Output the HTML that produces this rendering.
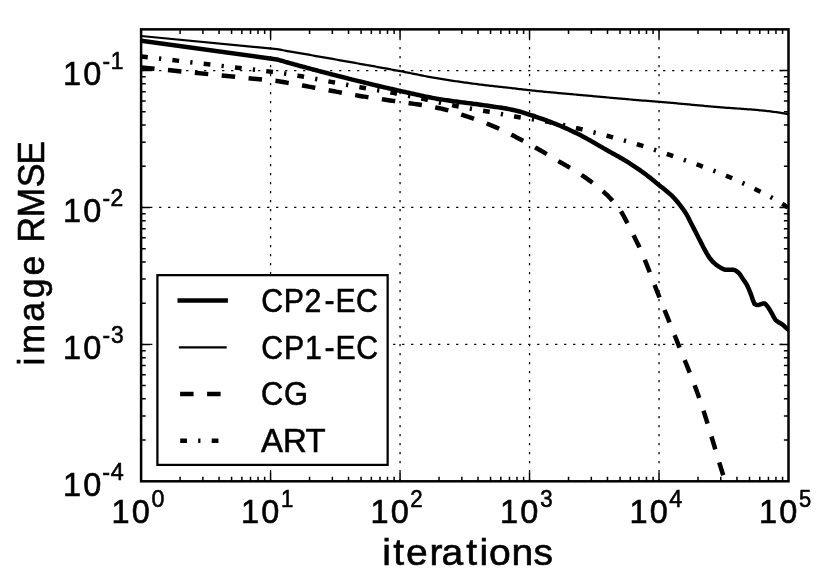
<!DOCTYPE html>
<html><head><meta charset="utf-8"><title>chart</title>
<style>
html,body{margin:0;padding:0;background:#fff;overflow:hidden}
body{width:830px;height:587px;position:relative;font-family:"Liberation Sans",sans-serif}
svg text{font-family:"Liberation Sans",sans-serif}
</style></head><body>
<svg width="830" height="587" viewBox="0 0 830 587" style="position:absolute;left:0;top:0;will-change:transform;filter:grayscale(1);font-family:'Liberation Sans',sans-serif" fill="#000">
<rect width="830" height="587" fill="#fff"/>
<defs><clipPath id="ax"><rect x="141.1" y="29.35" width="647.4" height="451.95"/></clipPath></defs>
<g stroke="#000" stroke-width="1.25" stroke-dasharray="2.25,6.75" fill="none">
<path d="M270.58,481.3 V29.35"/>
<path d="M400.06,481.3 V29.35"/>
<path d="M529.54,481.3 V29.35"/>
<path d="M659.02,481.3 V29.35"/>
<path d="M141.1,344.39 H788.5"/>
<path d="M141.1,207.48 H788.5"/>
<path d="M141.1,70.56 H788.5"/>
</g>
<g clip-path="url(#ax)" fill="none" stroke="#000" stroke-linejoin="round">
<path d="M141.10,40.70 L277.00,59.50 L278.51,59.93 L280.01,60.35 L281.52,60.78 L283.02,61.20 L284.53,61.63 L286.04,62.05 L287.54,62.47 L289.05,62.89 L290.55,63.31 L292.06,63.73 L293.56,64.14 L295.07,64.56 L296.58,64.97 L298.08,65.39 L299.59,65.80 L301.09,66.21 L302.60,66.62 L304.11,67.03 L305.61,67.44 L307.12,67.85 L308.62,68.26 L310.13,68.66 L311.64,69.07 L313.14,69.47 L314.65,69.87 L316.15,70.27 L317.66,70.67 L319.16,71.07 L320.67,71.47 L322.18,71.86 L323.68,72.26 L325.19,72.65 L326.69,73.04 L328.20,73.44 L329.71,73.83 L331.21,74.22 L332.72,74.60 L334.22,74.99 L335.73,75.38 L337.24,75.76 L338.74,76.14 L340.25,76.53 L341.75,76.91 L343.26,77.29 L344.76,77.67 L346.27,78.05 L347.78,78.43 L349.28,78.81 L350.79,79.18 L352.29,79.56 L353.80,79.93 L355.31,80.31 L356.81,80.68 L358.32,81.06 L359.82,81.43 L361.33,81.80 L362.84,82.17 L364.34,82.54 L365.85,82.90 L367.35,83.27 L368.86,83.63 L370.36,84.00 L371.87,84.36 L373.38,84.72 L374.88,85.08 L376.39,85.44 L377.89,85.80 L379.40,86.16 L380.91,86.51 L382.41,86.87 L383.92,87.22 L385.42,87.57 L386.93,87.92 L388.44,88.27 L389.94,88.62 L391.45,88.96 L392.95,89.31 L394.46,89.65 L395.96,89.99 L397.47,90.33 L398.98,90.67 L400.48,91.01 L401.99,91.35 L403.49,91.69 L405.00,92.03 L406.51,92.37 L408.01,92.71 L409.52,93.05 L411.02,93.39 L412.53,93.73 L414.04,94.07 L415.54,94.40 L417.05,94.73 L418.55,95.06 L420.06,95.39 L421.56,95.72 L423.07,96.04 L424.58,96.35 L426.08,96.66 L427.59,96.97 L429.09,97.27 L430.60,97.56 L432.11,97.85 L433.61,98.13 L435.12,98.40 L436.62,98.66 L438.13,98.92 L439.64,99.17 L441.14,99.41 L442.65,99.65 L444.15,99.88 L445.66,100.11 L447.16,100.33 L448.67,100.55 L450.18,100.76 L451.68,100.97 L453.19,101.18 L454.69,101.38 L456.20,101.58 L457.71,101.78 L459.21,101.97 L460.72,102.17 L462.22,102.36 L463.73,102.55 L465.24,102.74 L466.74,102.93 L468.25,103.13 L469.75,103.32 L471.26,103.51 L472.76,103.71 L474.27,103.90 L475.78,104.10 L477.28,104.31 L478.79,104.51 L480.29,104.72 L481.80,104.93 L483.31,105.14 L484.81,105.36 L486.32,105.59 L487.82,105.81 L489.33,106.04 L490.84,106.25 L492.34,106.47 L493.85,106.69 L495.35,106.91 L496.86,107.13 L498.36,107.36 L499.87,107.59 L501.38,107.82 L502.88,108.06 L504.39,108.31 L505.89,108.56 L507.40,108.83 L508.91,109.10 L510.41,109.39 L511.92,109.69 L513.42,110.01 L514.93,110.34 L516.44,110.71 L517.94,111.11 L519.45,111.52 L520.95,111.96 L522.46,112.41 L523.96,112.88 L525.47,113.35 L526.98,113.83 L528.48,114.31 L529.99,114.79 L531.49,115.27 L533.00,115.76 L534.51,116.26 L536.01,116.76 L537.52,117.27 L539.02,117.79 L540.53,118.31 L542.04,118.85 L543.54,119.38 L545.05,119.93 L546.55,120.48 L548.06,121.04 L549.56,121.61 L551.07,122.18 L552.58,122.77 L554.08,123.35 L555.59,123.95 L557.09,124.55 L558.60,125.16 L560.11,125.78 L561.61,126.42 L563.12,127.06 L564.62,127.72 L566.13,128.38 L567.64,129.06 L569.14,129.75 L570.65,130.45 L572.15,131.16 L573.66,131.88 L575.16,132.60 L576.67,133.34 L578.18,134.09 L579.68,134.84 L581.19,135.61 L582.69,136.39 L584.20,137.20 L585.71,138.02 L587.21,138.85 L588.72,139.69 L590.22,140.55 L591.73,141.41 L593.24,142.28 L594.74,143.16 L596.25,144.03 L597.75,144.91 L599.26,145.79 L600.76,146.66 L602.27,147.53 L603.78,148.39 L605.28,149.24 L606.79,150.08 L608.29,150.93 L609.80,151.77 L611.31,152.60 L612.81,153.44 L614.32,154.28 L615.82,155.13 L617.33,155.97 L618.84,156.83 L620.34,157.70 L621.85,158.57 L623.35,159.46 L624.86,160.36 L626.36,161.27 L627.87,162.21 L629.38,163.15 L630.88,164.12 L632.39,165.09 L633.89,166.08 L635.40,167.08 L636.91,168.10 L638.41,169.14 L639.92,170.18 L641.42,171.25 L642.93,172.33 L644.44,173.43 L645.94,174.55 L647.45,175.69 L648.95,176.87 L650.46,178.06 L651.96,179.27 L653.47,180.49 L654.98,181.72 L656.48,182.96 L657.99,184.20 L659.49,185.44 L661.00,186.66 L662.51,187.86 L664.01,189.05 L665.52,190.26 L667.02,191.49 L668.53,192.76 L670.04,194.08 L671.54,195.47 L673.05,196.95 L674.55,198.54 L676.06,200.25 L677.56,202.06 L679.07,203.96 L680.58,205.91 L682.08,207.91 L683.59,209.95 L685.09,212.12 L686.60,214.50 L688.11,217.27 L689.61,220.33 L691.12,223.27 L692.62,226.21 L694.13,229.15 L695.64,232.08 L697.14,235.01 L698.65,237.94 L700.15,240.88 L701.66,243.86 L703.16,246.81 L704.67,249.61 L706.18,252.35 L707.68,254.99 L709.19,257.33 L710.69,259.30 L712.20,261.05 L713.71,262.59 L715.21,263.94 L716.72,265.16 L718.22,266.24 L719.73,267.16 L721.24,268.03 L722.74,268.88 L724.25,269.53 L725.75,269.80 L727.26,269.80 L728.76,269.80 L730.27,269.80 L731.78,269.80 L733.28,269.80 L734.79,270.10 L736.29,270.96 L737.80,272.12 L739.31,273.52 L740.81,275.66 L742.32,278.07 L743.82,280.25 L745.33,282.37 L746.84,284.80 L748.34,287.93 L749.85,291.65 L751.35,295.43 L752.86,299.91 L754.36,303.75 L755.87,304.67 L757.38,304.96 L758.88,304.92 L760.39,304.45 L761.89,303.82 L763.40,303.36 L764.91,303.57 L766.41,305.07 L767.92,306.92 L769.42,309.24 L770.93,311.88 L772.44,314.49 L773.94,317.34 L775.45,319.78 L776.95,321.21 L778.46,322.19 L779.96,323.00 L781.47,323.90 L782.98,325.04 L784.48,326.35 L785.99,327.72 L787.49,329.06 L789.00,330.30" stroke-width="4.5"/>
<path d="M141.10,36.00 L277.00,49.20 L278.50,49.46 L280.01,49.72 L281.51,49.98 L283.02,50.24 L284.52,50.50 L286.03,50.77 L287.53,51.03 L289.04,51.29 L290.54,51.55 L292.04,51.81 L293.55,52.08 L295.05,52.34 L296.56,52.60 L298.06,52.87 L299.57,53.13 L301.07,53.39 L302.57,53.65 L304.08,53.92 L305.58,54.18 L307.09,54.45 L308.59,54.71 L310.10,54.98 L311.60,55.24 L313.11,55.50 L314.61,55.77 L316.11,56.03 L317.62,56.30 L319.12,56.57 L320.63,56.83 L322.13,57.10 L323.64,57.36 L325.14,57.63 L326.65,57.90 L328.15,58.16 L329.65,58.43 L331.16,58.70 L332.66,58.96 L334.17,59.23 L335.67,59.50 L337.18,59.76 L338.68,60.03 L340.19,60.30 L341.69,60.57 L343.19,60.84 L344.70,61.10 L346.20,61.37 L347.71,61.64 L349.21,61.90 L350.72,62.17 L352.22,62.44 L353.73,62.71 L355.23,62.97 L356.73,63.24 L358.24,63.51 L359.74,63.78 L361.25,64.05 L362.75,64.32 L364.26,64.58 L365.76,64.85 L367.26,65.12 L368.77,65.39 L370.27,65.66 L371.78,65.93 L373.28,66.20 L374.79,66.47 L376.29,66.75 L377.80,67.02 L379.30,67.29 L380.80,67.56 L382.31,67.84 L383.81,68.11 L385.32,68.38 L386.82,68.66 L388.33,68.94 L389.83,69.21 L391.34,69.49 L392.84,69.77 L394.34,70.05 L395.85,70.33 L397.35,70.61 L398.86,70.89 L400.36,71.17 L401.87,71.45 L403.37,71.74 L404.88,72.04 L406.38,72.33 L407.88,72.63 L409.39,72.94 L410.89,73.24 L412.40,73.55 L413.90,73.85 L415.41,74.16 L416.91,74.47 L418.41,74.77 L419.92,75.08 L421.42,75.38 L422.93,75.68 L424.43,75.98 L425.94,76.27 L427.44,76.57 L428.95,76.85 L430.45,77.14 L431.95,77.41 L433.46,77.69 L434.96,77.95 L436.47,78.21 L437.97,78.46 L439.48,78.71 L440.98,78.95 L442.49,79.19 L443.99,79.43 L445.49,79.67 L447.00,79.90 L448.50,80.13 L450.01,80.36 L451.51,80.59 L453.02,80.82 L454.52,81.04 L456.02,81.26 L457.53,81.48 L459.03,81.69 L460.54,81.91 L462.04,82.12 L463.55,82.33 L465.05,82.54 L466.56,82.74 L468.06,82.95 L469.56,83.15 L471.07,83.35 L472.57,83.55 L474.08,83.75 L475.58,83.94 L477.09,84.14 L478.59,84.33 L480.10,84.52 L481.60,84.71 L483.10,84.89 L484.61,85.08 L486.11,85.26 L487.62,85.45 L489.12,85.62 L490.63,85.80 L492.13,85.97 L493.64,86.13 L495.14,86.30 L496.64,86.46 L498.15,86.62 L499.65,86.78 L501.16,86.94 L502.66,87.10 L504.17,87.26 L505.67,87.42 L507.18,87.58 L508.68,87.75 L510.18,87.92 L511.69,88.10 L513.19,88.27 L514.70,88.46 L516.20,88.64 L517.71,88.82 L519.21,89.01 L520.71,89.19 L522.22,89.38 L523.72,89.56 L525.23,89.73 L526.73,89.91 L528.24,90.07 L529.74,90.24 L531.25,90.40 L532.75,90.55 L534.25,90.71 L535.76,90.86 L537.26,91.01 L538.77,91.17 L540.27,91.32 L541.78,91.46 L543.28,91.61 L544.79,91.76 L546.29,91.90 L547.79,92.04 L549.30,92.19 L550.80,92.33 L552.31,92.47 L553.81,92.61 L555.32,92.74 L556.82,92.88 L558.33,93.02 L559.83,93.16 L561.33,93.29 L562.84,93.43 L564.34,93.56 L565.85,93.70 L567.35,93.83 L568.86,93.97 L570.36,94.10 L571.86,94.23 L573.37,94.37 L574.87,94.50 L576.38,94.64 L577.88,94.77 L579.39,94.90 L580.89,95.04 L582.40,95.17 L583.90,95.31 L585.40,95.45 L586.91,95.58 L588.41,95.72 L589.92,95.86 L591.42,95.99 L592.93,96.13 L594.43,96.27 L595.94,96.41 L597.44,96.54 L598.94,96.68 L600.45,96.82 L601.95,96.96 L603.46,97.09 L604.96,97.23 L606.47,97.37 L607.97,97.50 L609.48,97.64 L610.98,97.78 L612.48,97.91 L613.99,98.05 L615.49,98.18 L617.00,98.32 L618.50,98.45 L620.01,98.58 L621.51,98.72 L623.01,98.85 L624.52,98.98 L626.02,99.11 L627.53,99.24 L629.03,99.37 L630.54,99.50 L632.04,99.63 L633.55,99.76 L635.05,99.89 L636.55,100.01 L638.06,100.14 L639.56,100.26 L641.07,100.39 L642.57,100.51 L644.08,100.63 L645.58,100.74 L647.09,100.86 L648.59,100.97 L650.09,101.09 L651.60,101.20 L653.10,101.32 L654.61,101.43 L656.11,101.55 L657.62,101.67 L659.12,101.79 L660.62,101.92 L662.13,102.04 L663.63,102.17 L665.14,102.30 L666.64,102.43 L668.15,102.56 L669.65,102.70 L671.16,102.83 L672.66,102.97 L674.16,103.10 L675.67,103.24 L677.17,103.38 L678.68,103.51 L680.18,103.65 L681.69,103.79 L683.19,103.93 L684.70,104.07 L686.20,104.21 L687.70,104.35 L689.21,104.49 L690.71,104.63 L692.22,104.77 L693.72,104.91 L695.23,105.05 L696.73,105.19 L698.24,105.33 L699.74,105.47 L701.24,105.60 L702.75,105.74 L704.25,105.88 L705.76,106.01 L707.26,106.15 L708.77,106.28 L710.27,106.41 L711.77,106.54 L713.28,106.68 L714.78,106.80 L716.29,106.93 L717.79,107.06 L719.30,107.18 L720.80,107.30 L722.31,107.42 L723.81,107.53 L725.31,107.65 L726.82,107.76 L728.32,107.87 L729.83,107.97 L731.33,108.08 L732.84,108.19 L734.34,108.29 L735.85,108.40 L737.35,108.50 L738.85,108.61 L740.36,108.71 L741.86,108.82 L743.37,108.93 L744.87,109.04 L746.38,109.15 L747.88,109.26 L749.39,109.38 L750.89,109.49 L752.39,109.61 L753.90,109.74 L755.40,109.86 L756.91,109.99 L758.41,110.13 L759.92,110.27 L761.42,110.41 L762.92,110.56 L764.43,110.71 L765.93,110.87 L767.44,111.03 L768.94,111.21 L770.45,111.40 L771.95,111.59 L773.46,111.79 L774.96,112.00 L776.46,112.22 L777.97,112.44 L779.47,112.67 L780.98,112.90 L782.48,113.13 L783.99,113.37 L785.49,113.61 L787.00,113.86 L788.50,114.10" stroke-width="2.25"/>
<path d="M141.10,67.40 L277.00,81.00 L278.51,81.26 L280.01,81.52 L281.52,81.78 L283.03,82.05 L284.53,82.31 L286.04,82.57 L287.55,82.84 L289.05,83.10 L290.56,83.37 L292.07,83.63 L293.57,83.90 L295.08,84.17 L296.59,84.44 L298.09,84.71 L299.60,84.97 L301.11,85.24 L302.61,85.51 L304.12,85.78 L305.63,86.06 L307.13,86.33 L308.64,86.60 L310.15,86.87 L311.65,87.15 L313.16,87.42 L314.67,87.70 L316.17,87.98 L317.68,88.26 L319.19,88.54 L320.69,88.82 L322.20,89.10 L323.71,89.38 L325.21,89.66 L326.72,89.94 L328.23,90.22 L329.73,90.50 L331.24,90.78 L332.75,91.05 L334.26,91.33 L335.76,91.60 L337.27,91.88 L338.78,92.15 L340.28,92.43 L341.79,92.70 L343.30,92.98 L344.80,93.25 L346.31,93.53 L347.82,93.80 L349.32,94.07 L350.83,94.35 L352.34,94.61 L353.84,94.88 L355.35,95.14 L356.86,95.40 L358.36,95.66 L359.87,95.92 L361.38,96.17 L362.88,96.41 L364.39,96.65 L365.90,96.89 L367.40,97.13 L368.91,97.36 L370.42,97.59 L371.92,97.82 L373.43,98.04 L374.94,98.27 L376.44,98.49 L377.95,98.71 L379.46,98.93 L380.96,99.15 L382.47,99.37 L383.98,99.59 L385.48,99.80 L386.99,100.02 L388.50,100.24 L390.00,100.46 L391.51,100.67 L393.02,100.88 L394.52,101.09 L396.03,101.30 L397.54,101.51 L399.04,101.71 L400.55,101.92 L402.06,102.12 L403.56,102.33 L405.07,102.54 L406.58,102.75 L408.08,102.96 L409.59,103.18 L411.10,103.40 L412.60,103.63 L414.11,103.86 L415.62,104.10 L417.12,104.33 L418.63,104.57 L420.14,104.81 L421.64,105.05 L423.15,105.29 L424.66,105.53 L426.16,105.78 L427.67,106.03 L429.18,106.29 L430.68,106.55 L432.19,106.82 L433.70,107.10 L435.20,107.38 L436.71,107.68 L438.22,107.98 L439.72,108.30 L441.23,108.63 L442.74,108.97 L444.24,109.33 L445.75,109.72 L447.26,110.12 L448.77,110.55 L450.27,110.99 L451.78,111.44 L453.29,111.91 L454.79,112.39 L456.30,112.87 L457.81,113.37 L459.31,113.87 L460.82,114.38 L462.33,114.89 L463.83,115.40 L465.34,115.91 L466.85,116.41 L468.35,116.92 L469.86,117.43 L471.37,117.94 L472.87,118.46 L474.38,118.99 L475.89,119.51 L477.39,120.05 L478.90,120.59 L480.41,121.14 L481.91,121.70 L483.42,122.26 L484.93,122.83 L486.43,123.41 L487.94,124.00 L489.45,124.60 L490.95,125.21 L492.46,125.83 L493.97,126.47 L495.47,127.11 L496.98,127.78 L498.49,128.46 L499.99,129.15 L501.50,129.86 L503.01,130.58 L504.51,131.31 L506.02,132.05 L507.53,132.79 L509.03,133.54 L510.54,134.30 L512.05,135.07 L513.55,135.83 L515.06,136.60 L516.57,137.38 L518.07,138.15 L519.58,138.93 L521.09,139.72 L522.59,140.51 L524.10,141.31 L525.61,142.12 L527.11,142.94 L528.62,143.76 L530.13,144.59 L531.63,145.42 L533.14,146.26 L534.65,147.11 L536.15,147.95 L537.66,148.81 L539.17,149.67 L540.67,150.53 L542.18,151.40 L543.69,152.29 L545.19,153.19 L546.70,154.10 L548.21,155.01 L549.71,155.93 L551.22,156.85 L552.73,157.77 L554.23,158.68 L555.74,159.58 L557.25,160.48 L558.76,161.35 L560.26,162.21 L561.77,163.06 L563.28,163.91 L564.78,164.75 L566.29,165.60 L567.80,166.46 L569.30,167.34 L570.81,168.25 L572.32,169.16 L573.82,170.09 L575.33,171.03 L576.84,171.99 L578.34,172.96 L579.85,173.94 L581.36,174.93 L582.86,175.94 L584.37,176.95 L585.88,177.97 L587.38,179.02 L588.89,180.08 L590.40,181.16 L591.90,182.28 L593.41,183.42 L594.92,184.58 L596.42,185.76 L597.93,186.97 L599.44,188.21 L600.94,189.48 L602.45,190.79 L603.96,192.14 L605.46,193.53 L606.97,194.98 L608.48,196.47 L609.98,198.02 L611.49,199.62 L613.00,201.28 L614.50,202.97 L616.01,204.71 L617.52,206.55 L619.02,208.51 L620.53,210.64 L622.04,213.05 L623.54,215.73 L625.05,218.58 L626.56,221.50 L628.06,224.39 L629.57,227.32 L631.08,230.30 L632.58,233.32 L634.09,236.37 L635.60,239.40 L637.10,242.40 L638.61,245.48 L640.12,248.75 L641.62,252.18 L643.13,255.73 L644.64,259.39 L646.14,263.13 L647.65,266.94 L649.16,270.80 L650.66,274.70 L652.17,278.61 L653.68,282.53 L655.18,286.44 L656.69,290.31 L658.20,294.14 L659.70,297.91 L661.21,301.67 L662.72,305.42 L664.22,309.18 L665.73,312.92 L667.24,316.67 L668.74,320.42 L670.25,324.18 L671.76,327.94 L673.27,331.70 L674.77,335.47 L676.28,339.26 L677.79,343.05 L679.29,346.85 L680.80,350.60 L682.31,354.33 L683.81,358.04 L685.32,361.74 L686.83,365.46 L688.33,369.19 L689.84,372.96 L691.35,376.78 L692.85,380.65 L694.36,384.58 L695.87,388.61 L697.37,392.72 L698.88,396.94 L700.39,401.29 L701.89,405.78 L703.40,410.38 L704.91,415.10 L706.41,419.90 L707.92,424.78 L709.43,429.72 L710.93,434.71 L712.44,439.73 L713.95,444.77 L715.45,449.81 L716.96,454.83 L718.47,459.83 L719.97,464.79 L721.48,469.69 L722.99,474.52 L724.49,479.28 L726.00,484.00" stroke-width="4.5" stroke-dasharray="13.5,13.5"/>
<path d="M141.10,56.40 L277.00,72.40 L278.50,72.62 L280.01,72.84 L281.51,73.06 L283.02,73.29 L284.52,73.52 L286.03,73.75 L287.53,73.98 L289.04,74.22 L290.54,74.46 L292.04,74.70 L293.55,74.94 L295.05,75.19 L296.56,75.44 L298.06,75.69 L299.57,75.94 L301.07,76.20 L302.57,76.46 L304.08,76.73 L305.58,77.00 L307.09,77.27 L308.59,77.55 L310.10,77.83 L311.60,78.12 L313.11,78.40 L314.61,78.69 L316.11,78.98 L317.62,79.27 L319.12,79.56 L320.63,79.86 L322.13,80.15 L323.64,80.44 L325.14,80.73 L326.65,81.02 L328.15,81.31 L329.65,81.59 L331.16,81.87 L332.66,82.15 L334.17,82.44 L335.67,82.72 L337.18,83.00 L338.68,83.28 L340.19,83.56 L341.69,83.84 L343.19,84.12 L344.70,84.40 L346.20,84.68 L347.71,84.96 L349.21,85.24 L350.72,85.52 L352.22,85.79 L353.73,86.07 L355.23,86.34 L356.73,86.62 L358.24,86.89 L359.74,87.16 L361.25,87.43 L362.75,87.70 L364.26,87.96 L365.76,88.22 L367.26,88.48 L368.77,88.74 L370.27,89.00 L371.78,89.25 L373.28,89.50 L374.79,89.75 L376.29,90.01 L377.80,90.26 L379.30,90.51 L380.80,90.76 L382.31,91.02 L383.81,91.27 L385.32,91.53 L386.82,91.79 L388.33,92.06 L389.83,92.33 L391.34,92.60 L392.84,92.87 L394.34,93.15 L395.85,93.43 L397.35,93.71 L398.86,94.00 L400.36,94.29 L401.87,94.58 L403.37,94.87 L404.88,95.17 L406.38,95.47 L407.88,95.76 L409.39,96.07 L410.89,96.37 L412.40,96.67 L413.90,96.98 L415.41,97.28 L416.91,97.59 L418.41,97.90 L419.92,98.21 L421.42,98.52 L422.93,98.83 L424.43,99.14 L425.94,99.46 L427.44,99.78 L428.95,100.10 L430.45,100.43 L431.95,100.77 L433.46,101.10 L434.96,101.44 L436.47,101.78 L437.97,102.12 L439.48,102.46 L440.98,102.80 L442.49,103.14 L443.99,103.48 L445.49,103.81 L447.00,104.14 L448.50,104.46 L450.01,104.79 L451.51,105.10 L453.02,105.41 L454.52,105.71 L456.02,106.00 L457.53,106.29 L459.03,106.57 L460.54,106.85 L462.04,107.12 L463.55,107.38 L465.05,107.65 L466.56,107.91 L468.06,108.17 L469.56,108.43 L471.07,108.68 L472.57,108.93 L474.08,109.19 L475.58,109.44 L477.09,109.69 L478.59,109.95 L480.10,110.20 L481.60,110.46 L483.10,110.72 L484.61,110.98 L486.11,111.25 L487.62,111.52 L489.12,111.79 L490.63,112.06 L492.13,112.34 L493.64,112.61 L495.14,112.89 L496.64,113.17 L498.15,113.45 L499.65,113.73 L501.16,114.01 L502.66,114.29 L504.17,114.56 L505.67,114.84 L507.18,115.12 L508.68,115.39 L510.18,115.66 L511.69,115.93 L513.19,116.20 L514.70,116.47 L516.20,116.73 L517.71,116.99 L519.21,117.24 L520.71,117.49 L522.22,117.73 L523.72,117.97 L525.23,118.21 L526.73,118.44 L528.24,118.67 L529.74,118.90 L531.25,119.13 L532.75,119.37 L534.25,119.60 L535.76,119.83 L537.26,120.07 L538.77,120.31 L540.27,120.55 L541.78,120.80 L543.28,121.05 L544.79,121.31 L546.29,121.58 L547.79,121.85 L549.30,122.13 L550.80,122.42 L552.31,122.72 L553.81,123.02 L555.32,123.33 L556.82,123.64 L558.33,123.96 L559.83,124.29 L561.33,124.62 L562.84,124.95 L564.34,125.29 L565.85,125.63 L567.35,125.98 L568.86,126.32 L570.36,126.67 L571.86,127.02 L573.37,127.38 L574.87,127.73 L576.38,128.09 L577.88,128.44 L579.39,128.80 L580.89,129.15 L582.40,129.51 L583.90,129.88 L585.40,130.24 L586.91,130.61 L588.41,130.98 L589.92,131.36 L591.42,131.73 L592.93,132.11 L594.43,132.49 L595.94,132.88 L597.44,133.27 L598.94,133.65 L600.45,134.05 L601.95,134.44 L603.46,134.83 L604.96,135.23 L606.47,135.63 L607.97,136.03 L609.48,136.43 L610.98,136.84 L612.48,137.24 L613.99,137.65 L615.49,138.06 L617.00,138.47 L618.50,138.89 L620.01,139.30 L621.51,139.72 L623.01,140.14 L624.52,140.57 L626.02,141.00 L627.53,141.43 L629.03,141.86 L630.54,142.30 L632.04,142.74 L633.55,143.18 L635.05,143.63 L636.55,144.08 L638.06,144.53 L639.56,144.99 L641.07,145.45 L642.57,145.92 L644.08,146.40 L645.58,146.88 L647.09,147.36 L648.59,147.85 L650.09,148.35 L651.60,148.85 L653.10,149.35 L654.61,149.85 L656.11,150.36 L657.62,150.87 L659.12,151.38 L660.62,151.89 L662.13,152.41 L663.63,152.92 L665.14,153.43 L666.64,153.95 L668.15,154.46 L669.65,154.98 L671.16,155.49 L672.66,156.00 L674.16,156.51 L675.67,157.02 L677.17,157.54 L678.68,158.05 L680.18,158.56 L681.69,159.08 L683.19,159.59 L684.70,160.11 L686.20,160.63 L687.70,161.15 L689.21,161.68 L690.71,162.21 L692.22,162.74 L693.72,163.28 L695.23,163.82 L696.73,164.36 L698.24,164.91 L699.74,165.46 L701.24,166.02 L702.75,166.58 L704.25,167.14 L705.76,167.70 L707.26,168.26 L708.77,168.83 L710.27,169.40 L711.77,169.98 L713.28,170.56 L714.78,171.14 L716.29,171.73 L717.79,172.33 L719.30,172.92 L720.80,173.53 L722.31,174.14 L723.81,174.75 L725.31,175.38 L726.82,176.00 L728.32,176.64 L729.83,177.28 L731.33,177.93 L732.84,178.59 L734.34,179.25 L735.85,179.92 L737.35,180.59 L738.85,181.28 L740.36,181.96 L741.86,182.66 L743.37,183.36 L744.87,184.07 L746.38,184.78 L747.88,185.50 L749.39,186.23 L750.89,186.96 L752.39,187.70 L753.90,188.44 L755.40,189.19 L756.91,189.95 L758.41,190.71 L759.92,191.47 L761.42,192.24 L762.92,193.00 L764.43,193.78 L765.93,194.55 L767.44,195.34 L768.94,196.13 L770.45,196.93 L771.95,197.74 L773.46,198.57 L774.96,199.41 L776.46,200.26 L777.97,201.13 L779.47,202.02 L780.98,202.93 L782.48,203.86 L783.99,204.81 L785.49,205.80 L787.00,206.88 L788.50,208.00" stroke-width="4.5" stroke-dasharray="6.75,11.25,2.25,11.25"/>
</g>
<g stroke="#000" stroke-width="1.5" fill="none">
<path d="M180.08,481.3 v-4.6 M180.08,29.35 v4.6"/>
<path d="M202.88,481.3 v-4.6 M202.88,29.35 v4.6"/>
<path d="M219.05,481.3 v-4.6 M219.05,29.35 v4.6"/>
<path d="M231.60,481.3 v-4.6 M231.60,29.35 v4.6"/>
<path d="M241.86,481.3 v-4.6 M241.86,29.35 v4.6"/>
<path d="M250.52,481.3 v-4.6 M250.52,29.35 v4.6"/>
<path d="M258.03,481.3 v-4.6 M258.03,29.35 v4.6"/>
<path d="M264.66,481.3 v-4.6 M264.66,29.35 v4.6"/>
<path d="M270.58,481.3 v-9.0 M270.58,29.35 v9.0"/>
<path d="M309.56,481.3 v-4.6 M309.56,29.35 v4.6"/>
<path d="M332.36,481.3 v-4.6 M332.36,29.35 v4.6"/>
<path d="M348.53,481.3 v-4.6 M348.53,29.35 v4.6"/>
<path d="M361.08,481.3 v-4.6 M361.08,29.35 v4.6"/>
<path d="M371.34,481.3 v-4.6 M371.34,29.35 v4.6"/>
<path d="M380.00,481.3 v-4.6 M380.00,29.35 v4.6"/>
<path d="M387.51,481.3 v-4.6 M387.51,29.35 v4.6"/>
<path d="M394.14,481.3 v-4.6 M394.14,29.35 v4.6"/>
<path d="M400.06,481.3 v-9.0 M400.06,29.35 v9.0"/>
<path d="M439.04,481.3 v-4.6 M439.04,29.35 v4.6"/>
<path d="M461.84,481.3 v-4.6 M461.84,29.35 v4.6"/>
<path d="M478.01,481.3 v-4.6 M478.01,29.35 v4.6"/>
<path d="M490.56,481.3 v-4.6 M490.56,29.35 v4.6"/>
<path d="M500.82,481.3 v-4.6 M500.82,29.35 v4.6"/>
<path d="M509.48,481.3 v-4.6 M509.48,29.35 v4.6"/>
<path d="M516.99,481.3 v-4.6 M516.99,29.35 v4.6"/>
<path d="M523.62,481.3 v-4.6 M523.62,29.35 v4.6"/>
<path d="M529.54,481.3 v-9.0 M529.54,29.35 v9.0"/>
<path d="M568.52,481.3 v-4.6 M568.52,29.35 v4.6"/>
<path d="M591.32,481.3 v-4.6 M591.32,29.35 v4.6"/>
<path d="M607.49,481.3 v-4.6 M607.49,29.35 v4.6"/>
<path d="M620.04,481.3 v-4.6 M620.04,29.35 v4.6"/>
<path d="M630.30,481.3 v-4.6 M630.30,29.35 v4.6"/>
<path d="M638.96,481.3 v-4.6 M638.96,29.35 v4.6"/>
<path d="M646.47,481.3 v-4.6 M646.47,29.35 v4.6"/>
<path d="M653.10,481.3 v-4.6 M653.10,29.35 v4.6"/>
<path d="M659.02,481.3 v-9.0 M659.02,29.35 v9.0"/>
<path d="M698.00,481.3 v-4.6 M698.00,29.35 v4.6"/>
<path d="M720.80,481.3 v-4.6 M720.80,29.35 v4.6"/>
<path d="M736.97,481.3 v-4.6 M736.97,29.35 v4.6"/>
<path d="M749.52,481.3 v-4.6 M749.52,29.35 v4.6"/>
<path d="M759.78,481.3 v-4.6 M759.78,29.35 v4.6"/>
<path d="M768.44,481.3 v-4.6 M768.44,29.35 v4.6"/>
<path d="M775.95,481.3 v-4.6 M775.95,29.35 v4.6"/>
<path d="M782.58,481.3 v-4.6 M782.58,29.35 v4.6"/>
<path d="M141.1,440.09 h4.6 M788.5,440.09 h-4.6"/>
<path d="M141.1,415.98 h4.6 M788.5,415.98 h-4.6"/>
<path d="M141.1,398.87 h4.6 M788.5,398.87 h-4.6"/>
<path d="M141.1,385.60 h4.6 M788.5,385.60 h-4.6"/>
<path d="M141.1,374.76 h4.6 M788.5,374.76 h-4.6"/>
<path d="M141.1,365.60 h4.6 M788.5,365.60 h-4.6"/>
<path d="M141.1,357.66 h4.6 M788.5,357.66 h-4.6"/>
<path d="M141.1,350.65 h4.6 M788.5,350.65 h-4.6"/>
<path d="M141.1,344.39 h9.0 M788.5,344.39 h-9.0"/>
<path d="M141.1,303.17 h4.6 M788.5,303.17 h-4.6"/>
<path d="M141.1,279.06 h4.6 M788.5,279.06 h-4.6"/>
<path d="M141.1,261.96 h4.6 M788.5,261.96 h-4.6"/>
<path d="M141.1,248.69 h4.6 M788.5,248.69 h-4.6"/>
<path d="M141.1,237.85 h4.6 M788.5,237.85 h-4.6"/>
<path d="M141.1,228.68 h4.6 M788.5,228.68 h-4.6"/>
<path d="M141.1,220.74 h4.6 M788.5,220.74 h-4.6"/>
<path d="M141.1,213.74 h4.6 M788.5,213.74 h-4.6"/>
<path d="M141.1,207.48 h9.0 M788.5,207.48 h-9.0"/>
<path d="M141.1,166.26 h4.6 M788.5,166.26 h-4.6"/>
<path d="M141.1,142.15 h4.6 M788.5,142.15 h-4.6"/>
<path d="M141.1,125.05 h4.6 M788.5,125.05 h-4.6"/>
<path d="M141.1,111.78 h4.6 M788.5,111.78 h-4.6"/>
<path d="M141.1,100.94 h4.6 M788.5,100.94 h-4.6"/>
<path d="M141.1,91.77 h4.6 M788.5,91.77 h-4.6"/>
<path d="M141.1,83.83 h4.6 M788.5,83.83 h-4.6"/>
<path d="M141.1,76.83 h4.6 M788.5,76.83 h-4.6"/>
<path d="M141.1,70.56 h9.0 M788.5,70.56 h-9.0"/>
</g>
<rect x="141.1" y="29.35" width="647.4" height="451.95" fill="none" stroke="#000" stroke-width="2.5"/>
<g stroke="#000" stroke-width="0.6" style="font-kerning:none">
<text transform="translate(0,496.15) scale(0.9908,1)" x="63.55 83.94" y="0" font-size="32.8">10</text>
<text transform="translate(0,479.85) scale(0.9597,1)" x="106.61 115.33" y="0" font-size="24.4">-4</text>
<text transform="translate(0,359.24) scale(0.9908,1)" x="63.55 83.94" y="0" font-size="32.8">10</text>
<text transform="translate(0,342.94) scale(0.9350,1)" x="109.53 118.59" y="0" font-size="24.4">-3</text>
<text transform="translate(0,222.33) scale(0.9908,1)" x="63.55 83.94" y="0" font-size="32.8">10</text>
<text transform="translate(0,206.03) scale(0.9377,1)" x="109.20 117.88" y="0" font-size="24.4">-2</text>
<text transform="translate(0,85.41) scale(0.9908,1)" x="63.55 83.94" y="0" font-size="32.8">10</text>
<text transform="translate(0,69.11) scale(0.9331,1)" x="109.76 118.70" y="0" font-size="24.4">-1</text>
<text transform="translate(0,523.1) scale(0.9908,1)" x="112.65 133.04" y="0" font-size="32.8">10</text>
<text transform="translate(0,507.1) scale(0.9526,1)" x="158.96" y="0" font-size="24.4">0</text>
<text transform="translate(0,523.1) scale(0.9908,1)" x="243.34 263.72" y="0" font-size="32.8">10</text>
<text transform="translate(0,507.1) scale(0.9098,1)" x="308.95" y="0" font-size="24.4">1</text>
<text transform="translate(0,523.1) scale(0.9908,1)" x="374.02 394.41" y="0" font-size="32.8">10</text>
<text transform="translate(0,507.1) scale(0.9182,1)" x="446.88" y="0" font-size="24.4">2</text>
<text transform="translate(0,523.1) scale(0.9908,1)" x="504.70 525.09" y="0" font-size="32.8">10</text>
<text transform="translate(0,507.1) scale(0.9149,1)" x="590.42" y="0" font-size="24.4">3</text>
<text transform="translate(0,523.1) scale(0.9908,1)" x="635.38 655.77" y="0" font-size="32.8">10</text>
<text transform="translate(0,507.1) scale(0.9527,1)" x="702.56" y="0" font-size="24.4">4</text>
<text transform="translate(0,523.1) scale(0.9908,1)" x="766.07 786.46" y="0" font-size="32.8">10</text>
<text transform="translate(0,507.1) scale(0.8990,1)" x="888.85" y="0" font-size="24.4">5</text>
<text transform="translate(0,565.0) scale(1.0558,1)" x="362.14 372.42 384.60 406.79 418.18 441.68 454.24 463.22 484.52 505.42" y="0" font-size="37.0">iterations</text>
<text transform="translate(44.2,363.8) rotate(-90) scale(0.9649,1)" x="-1.83 10.31 43.57 67.95 91.59 113.29 125.38 151.76 182.96 206.30" y="0" font-size="37.0">image RMSE</text>
<rect x="157.4" y="275.15" width="230.24999999999997" height="189.75" fill="#fff" stroke="#000" stroke-width="2.25"/>
<g stroke="#000" fill="none">
<path d="M177.5,300.5 H227.9" stroke-width="4.5"/>
<path d="M178.9,347.4 H226.7" stroke-width="2.25"/>
<path d="M180.1,393.9 H226.4" stroke-width="4.5" stroke-dasharray="13.5,13.5"/>
<path d="M180.2,440.7 H226.5" stroke-width="4.5" stroke-dasharray="6.75,11.25,2.25,11.25"/>
</g>
<text transform="translate(0,311.7) scale(0.8908,1)" x="293.22 318.67 341.93 364.35 376.68 399.79" y="0" font-size="34.0">CP2-EC</text>
<text transform="translate(0,358.7) scale(0.8889,1)" x="293.87 319.37 343.03 365.14 377.51 400.67" y="0" font-size="34.0">CP1-EC</text>
<text transform="translate(0,405.2) scale(0.9074,1)" x="287.64 313.13" y="0" font-size="34.0">CG</text>
<text transform="translate(0,451.6) scale(0.9688,1)" x="269.49 292.18 315.36" y="0" font-size="34.0">ART</text>
</g>
</svg>
</body></html>
